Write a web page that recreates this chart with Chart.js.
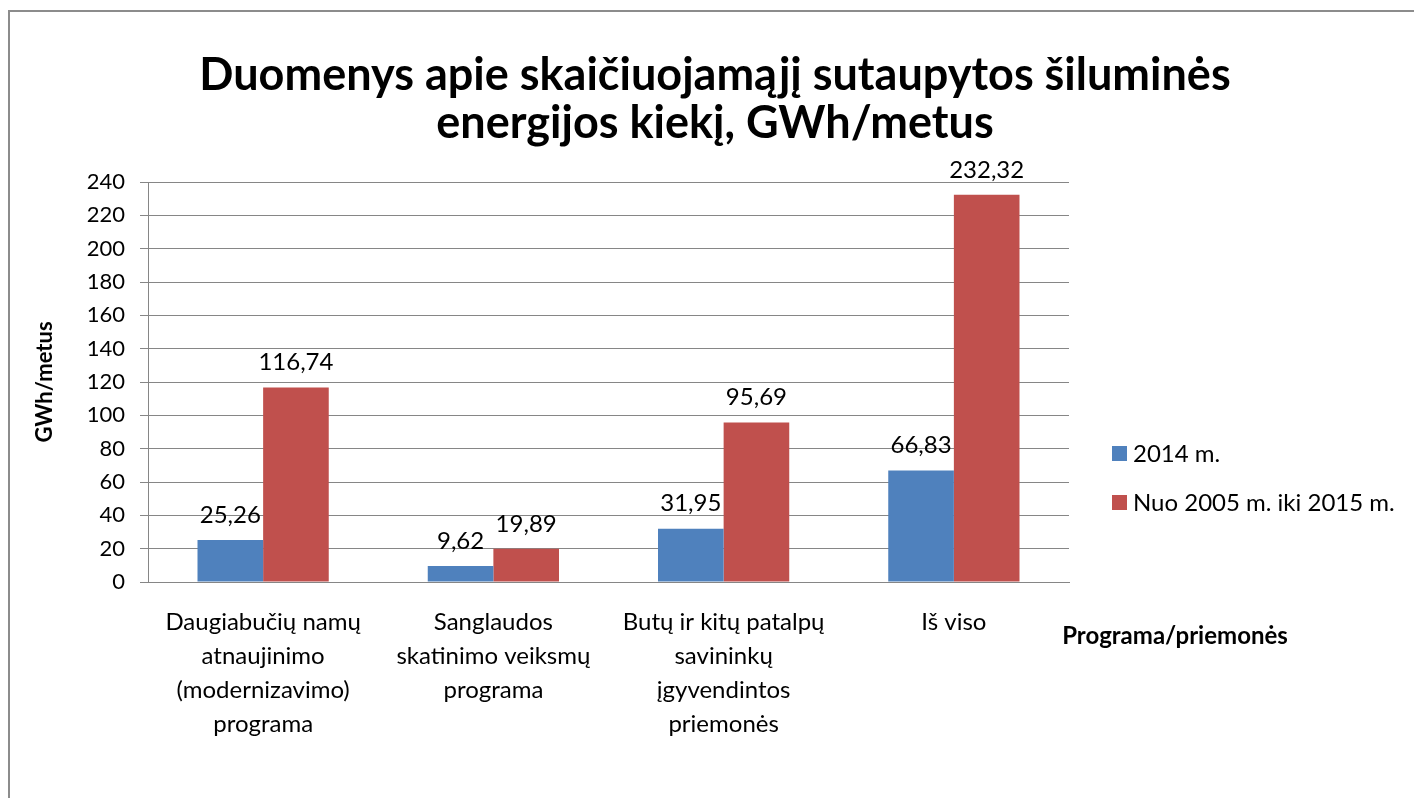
<!DOCTYPE html>
<html>
<head>
<meta charset="utf-8">
<script src="https://cdn.jsdelivr.net/npm/chart.js@4"></script>
<style>
    html, body { margin: 0; padding: 0; background: #fff; }
    #wrap { position: relative; width: 1414px; height: 798px; }
</style>
</head>
<body>
<div id="wrap"><canvas id="savingsChart" width="1414" height="798"></canvas></div>
<script>
const categories = [
    ['Daugiabučių namų', 'atnaujinimo', '(modernizavimo)', 'programa'],
    ['Sanglaudos', 'skatinimo veiksmų', 'programa'],
    ['Butų ir kitų patalpų', 'savininkų', 'įgyvendintos', 'priemonės'],
    ['Iš viso']
];
const seriesNames = ['2014 m.', 'Nuo 2005 m. iki 2015 m.'];
const values2014 = [25.26, 9.62, 31.95, 66.83];
const values2005to2015 = [116.74, 19.89, 95.69, 232.32];
const yTicks = [0, 240, 20]; // min, max, step
const titleLines = ['Duomenys apie skaičiuojamąjį sutaupytos šiluminės', 'energijos kiekį, GWh/metus'];

const FONT = 'Lato, "Open Sans", sans-serif';
const colors = ['#4F81BD', '#C0504D'];
const gridColor = '#868686';

// frame + title (title centred on the whole picture, not just the plot)
const framePlugin = {
    id: 'frame',
    beforeDraw(chart) {
        const ctx = chart.ctx;
        ctx.save();
        ctx.strokeStyle = '#8c8c8c';
        ctx.lineWidth = 2;
        ctx.strokeRect(9, 11, 1500, 1000);
        ctx.fillStyle = '#000';
        ctx.font = 'bold 45px ' + FONT;
        ctx.textAlign = 'center';
        ctx.textBaseline = 'middle';
        titleLines.forEach((line, i) => ctx.fillText(line, 715, 75 + i * 48));
        ctx.restore();
    }
};

// value labels above the bars
const valueLabels = {
    id: 'valueLabels',
    afterDatasetsDraw(chart) {
        const ctx = chart.ctx;
        ctx.save();
        ctx.font = '24px ' + FONT;
        ctx.fillStyle = '#000';
        ctx.textAlign = 'center';
        ctx.textBaseline = 'middle';
        chart.data.datasets.forEach((ds, i) => {
            chart.getDatasetMeta(i).data.forEach((bar, j) => {
                ctx.fillText(ds.data[j].toFixed(2).replace('.', ','), bar.x, bar.y - 25);
            });
        });
        ctx.restore();
    }
};

// legend and x axis title on the right side
const sideText = {
    id: 'sideText',
    afterDraw(chart) {
        const ctx = chart.ctx;
        ctx.save();
        ctx.textBaseline = 'middle';
        ctx.textAlign = 'left';
        ctx.font = '24px ' + FONT;
        seriesNames.forEach((name, i) => {
            const y = 453 + i * 49;
            ctx.fillStyle = colors[i];
            ctx.fillRect(1112, y - 7, 15, 15);
            ctx.fillStyle = '#000';
            ctx.fillText(name, 1133, y + 1);
        });
        ctx.font = 'bold 24px ' + FONT;
        ctx.textAlign = 'center';
        ctx.fillText('Programa/priemonės', 1175, 636);
        ctx.restore();
    }
};

new Chart(document.getElementById('savingsChart'), {
    type: 'bar',
    data: {
        labels: categories,
        datasets: [
            {
                label: seriesNames[0],
                data: values2014,
                backgroundColor: colors[0],
                categoryPercentage: 0.57,
                barPercentage: 1.0
            },
            {
                label: seriesNames[1],
                data: values2005to2015,
                backgroundColor: colors[1],
                categoryPercentage: 0.57,
                barPercentage: 1.0
            }
        ]
    },
    options: {
        responsive: false,
        animation: false,
        layout: {
            padding: {left: 0, right: 345, top: 182, bottom: 0}
        },
        plugins: {
            legend: {display: false},
            tooltip: {enabled: false},
            title: {display: false}
        },
        scales: {
            x: {
                afterFit(scale) { scale.height = 216; },
                grid: {display: false},
                border: {display: true, color: gridColor, width: 1},
                ticks: {
                    color: '#000',
                    font: {family: FONT, size: 24, lineHeight: 1.42},
                    maxRotation: 0,
                    autoSkip: false,
                    padding: 15
                }
            },
            y: {
                afterFit(scale) { scale.width = 148; },
                min: yTicks[0],
                max: yTicks[1],
                ticks: {
                    stepSize: yTicks[2],
                    color: '#000',
                    font: {family: FONT, size: 22},
                    padding: 15
                },
                grid: {color: gridColor, tickLength: 8, tickColor: gridColor},
                border: {display: true, color: gridColor},
                title: {
                    display: true,
                    text: 'GWh/metus',
                    color: '#000',
                    font: {family: FONT, size: 22, weight: 'bold'},
                    padding: {top: 32, bottom: 0}
                }
            }
        }
    },
    plugins: [framePlugin, valueLabels, sideText]
});
</script>
</body>
</html>
